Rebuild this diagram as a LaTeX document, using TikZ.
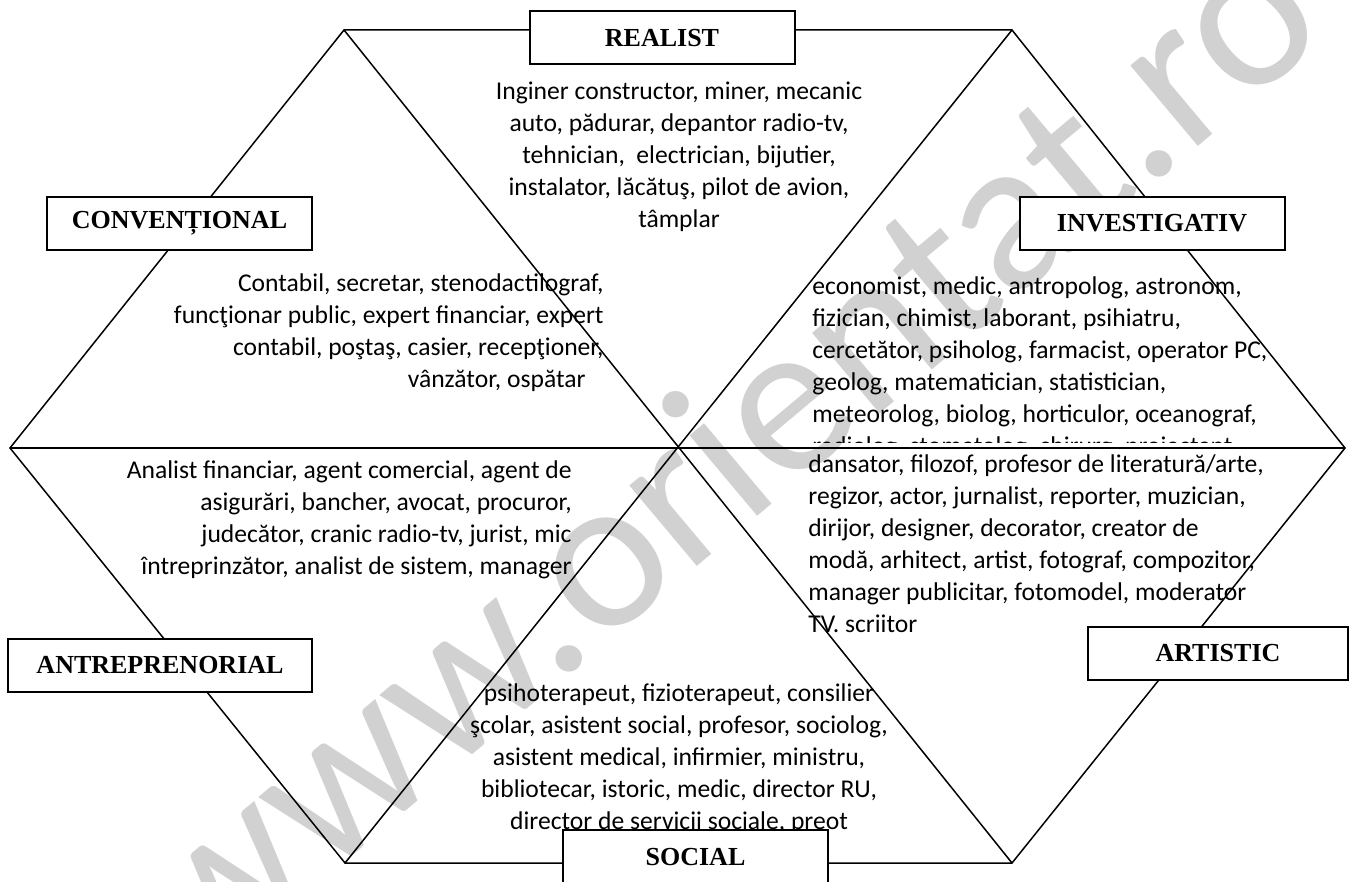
\documentclass[tikz,border=0pt]{standalone}
\usepackage{fontspec}
\setmainfont{Carlito}
\newfontfamily\boxfont{Liberation Serif}
\begin{document}
\begin{tikzpicture}[x=0.5pt, y=-0.5pt]
    % Define styles
    \tikzset{
        typebox/.style={draw, line width=1pt, fill=white, minimum width=132.5pt, minimum height=26.5pt, inner sep=0pt, font=\boxfont\bfseries\fontsize{13}{15}\selectfont},
        jobs/.style={inner sep=0pt, font=\fontsize{12.8}{16}\selectfont},
        hexline/.style={line width=0.75pt, line join=miter},
        watermark/.style={text=gray!36, inner sep=0pt, font=\fontsize{110}{110}\selectfont, rotate=40}
    }
    \useasboundingbox (0,0) rectangle (1355,882);

    % Watermark
    \node[watermark] (wm) at (720,450) {www.orientat.ro};

    % Hexagon corners
    \coordinate (vtl) at (344,30);
    \coordinate (vtr) at (1012,30);
    \coordinate (vr) at (1345,448);
    \coordinate (vbr) at (1012,863);
    \coordinate (vbl) at (345,863);
    \coordinate (vl) at (10,448);

    % Hexagon and diagonals
    \draw[hexline] (vtl) -- (vtr) -- (vr) -- (vbr) -- (vbl) -- (vl) -- cycle;
    \draw[hexline] (vtl) -- (vbr);
    \draw[hexline] (vtr) -- (vbl);
    \draw[hexline] (vl) -- (vr);

    % Occupations
    \node[jobs, anchor=north, align=center] (realj) at (679,81) {Inginer constructor, miner, mecanic\\auto, pădurar, depantor radio-tv,\\tehnician,\ \ electrician, bijutier,\\instalator, lăcătuş, pilot de avion,\\tâmplar};
    \node[jobs, anchor=north east, align=right] (convj) at (604,273) {Contabil, secretar, stenodactilograf,\\funcţionar public, expert financiar, expert\\contabil, poştaş, casier, recepţioner,\\vânzător, ospătar\hspace*{9pt}};
    \begin{scope}
        \clip (800,260) rectangle (1355,442);
        \node[jobs, anchor=north west, align=left] (invj) at (812,276) {economist, medic, antropolog, astronom,\\fizician, chimist, laborant, psihiatru,\\cercetător, psiholog, farmacist, operator PC,\\geolog, matematician, statistician,\\meteorolog, biolog, horticulor, oceanograf,\\radiolog, stomatolog, chirurg, proiectant};
    \end{scope}
    \node[jobs, anchor=north east, align=right] (antj) at (572,460) {Analist financiar, agent comercial, agent de\\asigurări, bancher, avocat, procuror,\\judecător, cranic radio-tv, jurist, mic\\întreprinzător, analist de sistem, manager};
    \node[jobs, anchor=north west, align=left] (artj) at (808,454) {dansator, filozof, profesor de literatură/arte,\\regizor, actor, jurnalist, reporter, muzician,\\dirijor, designer, decorator, creator de\\modă, arhitect, artist, fotograf, compozitor,\\manager publicitar, fotomodel, moderator\\TV. scriitor};
    \node[jobs, anchor=north, align=center] (socj) at (679,683) {psihoterapeut, fizioterapeut, consilier\\şcolar, asistent social, profesor, sociolog,\\asistent medical, infirmier, ministru,\\bibliotecar, istoric, medic, director RU,\\director de servicii sociale, preot};

    % Type boxes
    \node[typebox] (real) at (662,38) {REALIST};
    \node[typebox] (conv) at (179.5,223.5) {CONVENȚIONAL};
    \node[typebox] (inv) at (1152,223.5) {INVESTIGATIV};
    \node[typebox, minimum width=152pt] (antr) at (160,665) {ANTREPRENORIAL};
    \node[typebox, minimum width=130pt] (art) at (1218,653.5) {ARTISTIC};
    \node[typebox, minimum height=27pt] (soc) at (695.5,857) {SOCIAL};
\end{tikzpicture}
\end{document}
